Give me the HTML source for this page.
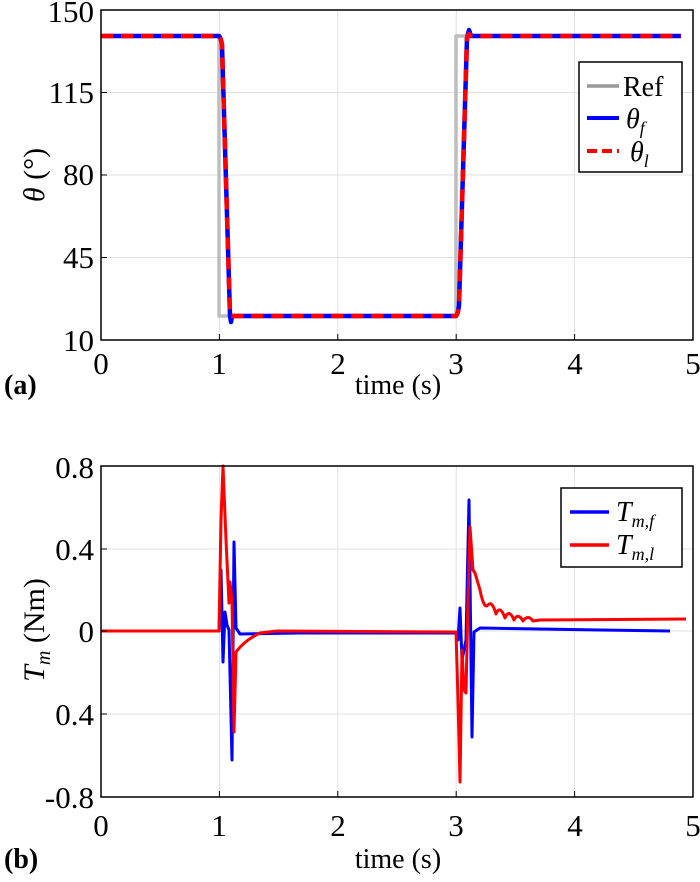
<!DOCTYPE html>
<html><head><meta charset="utf-8"><style>
html,body{margin:0;padding:0;background:#fff;}
svg{display:block;}
</style></head><body>
<svg width="700" height="882" viewBox="0 0 700 882" xmlns="http://www.w3.org/2000/svg" font-family="'Liberation Serif', serif">
<!-- Top plot -->
<g stroke="#e0e0e0" stroke-width="1">
<line x1="219.4" y1="10" x2="219.4" y2="340"/><line x1="337.8" y1="10" x2="337.8" y2="340"/>
<line x1="456.2" y1="10" x2="456.2" y2="340"/><line x1="574.6" y1="10" x2="574.6" y2="340"/>
<line x1="101" y1="92.5" x2="693" y2="92.5"/><line x1="101" y1="175" x2="693" y2="175"/><line x1="101" y1="257.5" x2="693" y2="257.5"/>
</g>
<g fill="none" stroke-linejoin="round">
<path d="M101,36 L219,36 L219,316 L456,316 L456,36 L681,36" stroke="#bdbdbd" stroke-width="3.5"/>
<path d="M101,36 L219,36 Q221,38 222,45 L230,316 L231,322 L232,316 L456,316 Q458,314 459,305 L467,38 L469,30 L471,36 L681,36" stroke="#0000ff" stroke-width="4.5"/>
<path d="M101,36 L219,36 Q221,38 222,45 L230,316 L232,316 L456,316 Q458,314 459,305 L467,38 L469,34 L471,36 L681,36" stroke="#ff0000" stroke-width="4.5" stroke-dasharray="12,8"/>
</g>
<rect x="101" y="10" width="592" height="330" fill="none" stroke="#000" stroke-width="1.5"/>
<g stroke="#000" stroke-width="1">
<line x1="219.4" y1="340" x2="219.4" y2="334"/><line x1="337.8" y1="340" x2="337.8" y2="334"/><line x1="456.2" y1="340" x2="456.2" y2="334"/><line x1="574.6" y1="340" x2="574.6" y2="334"/>
<line x1="101" y1="92.5" x2="107" y2="92.5"/><line x1="101" y1="175" x2="107" y2="175"/><line x1="101" y1="257.5" x2="107" y2="257.5"/>
</g>
<rect x="579" y="62" width="103" height="110" fill="#fff" stroke="#000" stroke-width="1.5"/>
<line x1="587" y1="86" x2="619" y2="86" stroke="#999" stroke-width="3.5"/>
<line x1="587" y1="118" x2="619" y2="118" stroke="#0000ff" stroke-width="4"/>
<line x1="587" y1="151" x2="619" y2="151" stroke="#ff0000" stroke-width="4" stroke-dasharray="10,5"/>
<g font-size="28" fill="#000" font-family="'Liberation Serif', serif">
<text x="623" y="96">Ref</text>
<text x="626" y="128" font-style="italic">θ<tspan font-size="18" dy="6">f</tspan></text>
<text x="630" y="161" font-style="italic">θ<tspan font-size="18" dy="6">l</tspan></text>
</g>
<g font-size="31" fill="#000" text-anchor="end" font-family="'Liberation Serif', serif">
<text x="94" y="22">150</text><text x="94" y="103">115</text><text x="94" y="185">80</text><text x="94" y="268">45</text><text x="94" y="351">10</text>
</g>
<g font-size="31" fill="#000" text-anchor="middle" font-family="'Liberation Serif', serif">
<text x="101" y="374">0</text><text x="219" y="374">1</text><text x="338" y="374">2</text><text x="456" y="374">3</text><text x="575" y="374">4</text><text x="693" y="374">5</text>
<text x="398" y="394" font-size="28">time (s)</text>
</g>
<text x="4" y="394" font-size="28" font-weight="bold" font-family="'Liberation Serif', serif">(a)</text>
<text transform="translate(44,175) rotate(-90)" font-size="30" text-anchor="middle" font-family="'Liberation Serif', serif"><tspan font-style="italic">θ</tspan> (°)</text>

<!-- Bottom plot -->
<g stroke="#e0e0e0" stroke-width="1">
<line x1="219.4" y1="466" x2="219.4" y2="797"/><line x1="337.8" y1="466" x2="337.8" y2="797"/>
<line x1="456.2" y1="466" x2="456.2" y2="797"/><line x1="574.6" y1="466" x2="574.6" y2="797"/>
<line x1="101" y1="549" x2="693" y2="549"/><line x1="101" y1="631" x2="693" y2="631"/><line x1="101" y1="714" x2="693" y2="714"/>
</g>
<g fill="none" stroke-linejoin="round" stroke-width="3">
<path d="M101,631 L219,631 L221,570 L223,662 L225,612 L227,625 L229,630 L232,760 L234,542 L236,628 L240,634 L300,633 L456,633 L458,640 L460,608 L462,660 L466,640 L469,500 L472,737 L474,632 L480,628 L540,629 L600,630 L670,631" stroke="#0000ff"/>
<path d="M101,631 L219,631 L221,520 L223,466 L226,540 L229,603 L230,582 L232,600 L234,732 L236,652 Q245,640 260,633 L277,631 L456,632 L458,700 L460,782 L462,650 L464,690 L466,693 L468,600 L470,527 L473,570 L475,573 L480,590 Q484,610 488,605 Q492,600 496,614 Q500,604 505,618 Q509,608 514,620 Q518,612 523,621 Q528,614 533,621 L540,620 L686,619" stroke="#ff0000"/>
</g>
<rect x="101" y="466" width="592" height="331" fill="none" stroke="#000" stroke-width="1.5"/>
<g stroke="#000" stroke-width="1">
<line x1="219.4" y1="797" x2="219.4" y2="791"/><line x1="337.8" y1="797" x2="337.8" y2="791"/><line x1="456.2" y1="797" x2="456.2" y2="791"/><line x1="574.6" y1="797" x2="574.6" y2="791"/>
<line x1="101" y1="549" x2="107" y2="549"/><line x1="101" y1="631" x2="107" y2="631"/><line x1="101" y1="714" x2="107" y2="714"/>
</g>
<rect x="561" y="488" width="121" height="79" fill="#fff" stroke="#000" stroke-width="1.5"/>
<line x1="570" y1="512" x2="609" y2="512" stroke="#0000ff" stroke-width="3.5"/>
<line x1="570" y1="545" x2="609" y2="545" stroke="#ff0000" stroke-width="3.5"/>
<g font-size="28" fill="#000" font-style="italic" font-family="'Liberation Serif', serif">
<text x="616" y="521">T<tspan font-size="18" dy="6">m,f</tspan></text>
<text x="616" y="554">T<tspan font-size="18" dy="6">m,l</tspan></text>
</g>
<g font-size="31" fill="#000" text-anchor="end" font-family="'Liberation Serif', serif">
<text x="94" y="478">0.8</text><text x="94" y="560">0.4</text><text x="94" y="642">0</text><text x="94" y="725">0.4</text><text x="94" y="808">-0.8</text>
</g>
<g font-size="31" fill="#000" text-anchor="middle" font-family="'Liberation Serif', serif">
<text x="101" y="836">0</text><text x="219" y="836">1</text><text x="338" y="836">2</text><text x="456" y="836">3</text><text x="575" y="836">4</text><text x="693" y="836">5</text>
<text x="398" y="868" font-size="28">time (s)</text>
</g>
<text x="4" y="868" font-size="28" font-weight="bold" font-family="'Liberation Serif', serif">(b)</text>
<text transform="translate(44,630) rotate(-90)" font-size="30" text-anchor="middle" font-family="'Liberation Serif', serif"><tspan font-style="italic">T<tspan font-size="20" dy="6">m</tspan></tspan><tspan dy="-6"> (Nm)</tspan></text>
</svg>
</body></html>
